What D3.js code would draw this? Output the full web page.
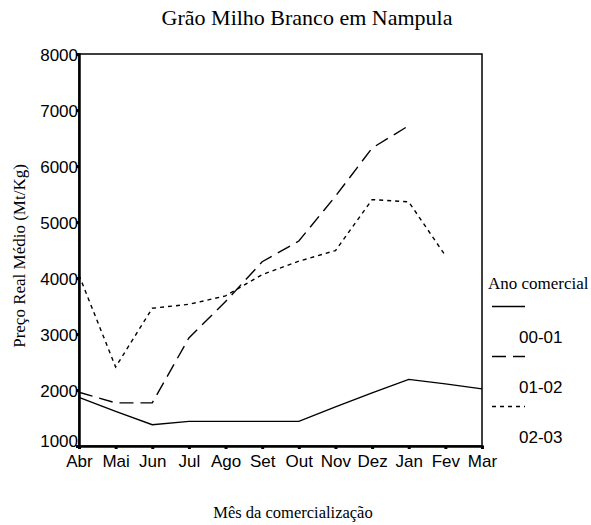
<!DOCTYPE html>
<html>
<head>
<meta charset="utf-8">
<script src="https://cdn.jsdelivr.net/npm/d3@7"></script>
<style>
  body { margin: 0; background: #fff; }
</style>
</head>
<body>
<script>
// Preço médio do milho branco em Nampula, por mês e ano comercial
const months = ["Abr", "Mai", "Jun", "Jul", "Ago", "Set", "Out", "Nov", "Dez", "Jan", "Fev", "Mar"];
const yTicks = [1000, 2000, 3000, 4000, 5000, 6000, 7000, 8000];
const seriesNames = ["00-01", "01-02", "02-03"];
const ano0001 = [1870, 1620, 1380, 1440, 1440, 1440, 1440, 1700, 1950, 2190, 2110, 2020];
const ano0102 = [1960, 1770, 1770, 2930, 3580, 4290, 4660, 5460, 6320, 6720, null, null];
const ano0203 = [4050, 2410, 3460, 3530, 3680, 4060, 4300, 4490, 5400, 5360, 4400, null];

const series = [ano0001, ano0102, ano0203];
const dashes = [null, "14,7", "4,4"];

const W = 591, H = 525;
const margin = {top: 54, right: 109, bottom: 79, left: 79};
const width = W - margin.left - margin.right;
const height = H - margin.top - margin.bottom;

const sans = "Liberation Sans, Arial, sans-serif";
const serif = "Liberation Serif, Times New Roman, serif";

const svg = d3.select("body").append("svg")
  .attr("width", W)
  .attr("height", H);

const g = svg.append("g")
  .attr("transform", "translate(" + margin.left + "," + margin.top + ")");

const x = d3.scalePoint()
  .domain(months)
  .range([0, width]);

const y = d3.scaleLinear()
  .domain([1000, 8000])
  .range([height, 0]);

// frame
g.append("rect")
  .attr("width", width)
  .attr("height", height)
  .attr("fill", "none")
  .attr("stroke", "#000")
  .attr("stroke-width", 1.5);

// axes
const yAxis = g.append("g")
  .call(d3.axisLeft(y).tickValues(yTicks).tickSize(3).tickFormat(d3.format("d")));
const xAxis = g.append("g")
  .attr("transform", "translate(0," + height + ")")
  .call(d3.axisBottom(x).tickSize(3));

[yAxis, xAxis].forEach(ax => {
  ax.select(".domain").attr("stroke-width", 2.5);
  ax.selectAll(".tick line").attr("stroke-width", 3);
  ax.selectAll("text")
    .attr("font-family", sans)
    .attr("font-size", 17)
    .attr("fill", "#000");
});
yAxis.selectAll("text").attr("x", -1).attr("dy", "0.4em");
// the lowest label sits a bit higher so it clears "Abr"
yAxis.selectAll(".tick").filter(d => d === 1000).select("text").attr("dy", "0.05em");
xAxis.selectAll("text").attr("y", 9);

// lines
const line = d3.line()
  .defined(d => d != null)
  .x((d, i) => x(months[i]))
  .y(d => y(d));

series.forEach((s, k) => {
  g.append("path")
    .datum(s)
    .attr("d", line)
    .attr("fill", "none")
    .attr("stroke", "#000")
    .attr("stroke-width", 1.4)
    .attr("stroke-dasharray", dashes[k]);
});

// titles
svg.append("text")
  .attr("x", 307)
  .attr("y", 25)
  .attr("text-anchor", "middle")
  .attr("font-family", serif)
  .attr("font-size", 22)
  .text("Grão Milho Branco em Nampula");

svg.append("text")
  .attr("transform", "rotate(-90)")
  .attr("x", -256)
  .attr("y", 25)
  .attr("text-anchor", "middle")
  .attr("font-family", serif)
  .attr("font-size", 17)
  .text("Preço Real Médio (Mt/Kg)");

svg.append("text")
  .attr("x", 293)
  .attr("y", 518)
  .attr("text-anchor", "middle")
  .attr("font-family", serif)
  .attr("font-size", 16.5)
  .text("Mês da comercialização");

// legend
const legend = svg.append("g").attr("transform", "translate(487,0)");
legend.append("text")
  .attr("x", 1)
  .attr("y", 289)
  .attr("font-family", serif)
  .attr("font-size", 17)
  .text("Ano comercial");

seriesNames.forEach((name, k) => {
  const yy = 306.5 + k * 50;
  legend.append("line")
    .attr("x1", 5).attr("x2", 38)
    .attr("y1", yy).attr("y2", yy)
    .attr("stroke", "#000")
    .attr("stroke-width", 1.4)
    .attr("stroke-dasharray", dashes[k]);
  legend.append("text")
    .attr("x", 32)
    .attr("y", yy + 36.5)
    .attr("font-family", sans)
    .attr("font-size", 17)
    .text(name);
});
</script>
</body>
</html>
